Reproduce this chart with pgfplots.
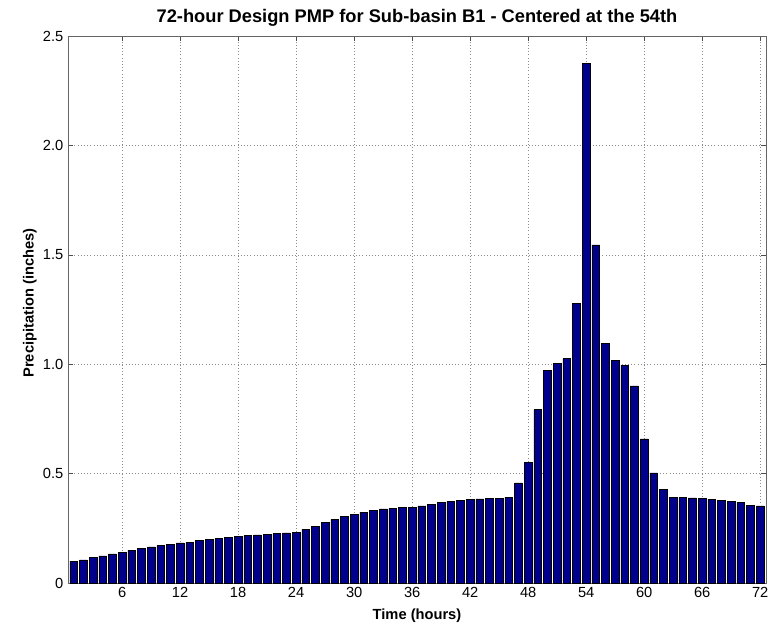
\documentclass[border=0pt]{standalone}
\usepackage{fontspec}
\setmainfont{Liberation Sans}
\usepackage{pgfplots}
\pgfplotsset{compat=1.18}
\usepackage{pgfplotstable}
\definecolor{barblue}{RGB}{0,0,140}
\pgfplotstableread{
h v
1 0.100
2 0.106
3 0.117
4 0.124
5 0.133
6 0.141
7 0.150
8 0.159
9 0.165
10 0.171
11 0.177
12 0.183
13 0.186
14 0.194
15 0.201
16 0.203
17 0.208
18 0.214
19 0.217
20 0.220
21 0.223
22 0.226
23 0.229
24 0.233
25 0.246
26 0.260
27 0.277
28 0.291
29 0.303
30 0.314
31 0.324
32 0.333
33 0.339
34 0.342
35 0.344
36 0.344
37 0.352
38 0.359
39 0.367
40 0.373
41 0.377
42 0.382
43 0.384
44 0.386
45 0.385
46 0.392
47 0.458
48 0.550
49 0.792
50 0.971
51 1.002
52 1.026
53 1.279
54 2.375
55 1.545
56 1.095
57 1.016
58 0.996
59 0.901
60 0.659
61 0.503
62 0.428
63 0.390
64 0.390
65 0.389
66 0.386
67 0.383
68 0.378
69 0.373
70 0.369
71 0.355
72 0.352
}\datatable
\begin{document}
\begin{tikzpicture}
\useasboundingbox (-51pt,-32.25pt) rectangle (531pt,437.25pt);
\begin{axis}[
  at={(0,0)}, anchor=south west,
  scale only axis,
  width=523.5pt, height=410.25pt,
  xmin=0.4, xmax=72.6, ymin=0, ymax=2.5,
  xtick={6,12,...,72},
  ytick={0,0.5,1,1.5,2,2.5},
  yticklabels={0,0.5,1.0,1.5,2.0,2.5},
  /pgf/number format/assume math mode=true,
  tick label style={font=\fontsize{11}{13}\selectfont},
  tick align=inside,
  major tick length=4pt,
  tick style={black!70},
  axis line style={black!60},
  grid=major,
  major grid style={black!45, dotted},
  title={72-hour Design PMP for Sub-basin B1 - Centered at the 54th},
  title style={at={(axis description cs:0.5,1.018)}, anchor=center, font=\bfseries\fontsize{13.7}{16}\selectfont},
  xlabel={Time (hours)},
  xlabel style={at={(axis description cs:0.5,-0.059)}, anchor=center, font=\bfseries\fontsize{11}{13}\selectfont},
  ylabel={Precipitation (inches)},
  ylabel style={at={(axis description cs:-0.0545,0.512)}, anchor=center, font=\bfseries\fontsize{11}{13}\selectfont},
]
\addplot[ybar, bar width=0.8, fill=barblue, draw=black, line width=0.4pt] table[x=h, y=v] {\datatable};
\end{axis}
\end{tikzpicture}
\end{document}
